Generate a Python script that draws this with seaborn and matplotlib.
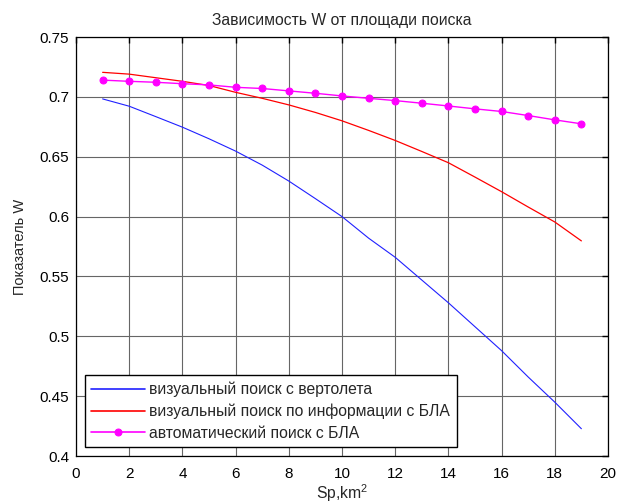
import matplotlib
matplotlib.use("Agg")
import matplotlib.pyplot as plt
import seaborn as sns
import pandas as pd
from matplotlib.ticker import FuncFormatter, MultipleLocator

x = list(range(1, 20))
heli = [0.6983, 0.6922, 0.6835, 0.6747, 0.665, 0.6547, 0.643, 0.6297, 0.615, 0.600,
        0.582, 0.566, 0.547, 0.528, 0.508, 0.488, 0.466, 0.445, 0.4228]
bla_info = [0.7205, 0.719, 0.716, 0.713, 0.7095, 0.7038, 0.6988, 0.6933, 0.687, 0.680,
            0.672, 0.6636, 0.6544, 0.645, 0.633, 0.6208, 0.608, 0.5955, 0.5797]
bla_auto = [0.714, 0.713, 0.7122, 0.711, 0.710, 0.708, 0.707, 0.705, 0.703, 0.7008,
            0.6988, 0.6969, 0.6947, 0.6924, 0.690, 0.6878, 0.6844, 0.6808, 0.6775]
labels = ["визуальный поиск с вертолета",
          "визуальный поиск по информации с БЛА",
          "автоматический поиск с БЛА"]
title = "Зависимость W от площади поиска"
xlabel = "Sp,km$^2$"
ylabel = "Показатель W"

sns.set_style("white")
plt.rcParams["font.family"] = ["Liberation Sans", "DejaVu Sans"]
plt.rcParams["mathtext.fontset"] = "custom"
plt.rcParams["mathtext.rm"] = "Liberation Sans"

fig = plt.figure(figsize=(6.19, 5.03), dpi=100)
ax = fig.add_axes([0.1228, 0.0934, 0.8594, 0.833])

df1 = pd.DataFrame({"x": x, "y": heli})
df2 = pd.DataFrame({"x": x, "y": bla_info})
df3 = pd.DataFrame({"x": x, "y": bla_auto})
sns.lineplot(data=df1, x="x", y="y", ax=ax, color="#2020ff", lw=0.8, legend=False)
sns.lineplot(data=df2, x="x", y="y", ax=ax, color="#ff0000", lw=0.9, legend=False)
sns.lineplot(data=df3, x="x", y="y", ax=ax, color="#ff00ff", lw=1.0, marker="o",
             markersize=5, markeredgecolor="#ff00ff", legend=False)
handles = list(ax.lines[:3])

ax.set_xlim(0, 20)
ax.set_ylim(0.4, 0.75)
ax.xaxis.set_major_locator(MultipleLocator(2))
ax.yaxis.set_major_locator(MultipleLocator(0.05))
ax.yaxis.set_major_formatter(FuncFormatter(lambda v, p: "%g" % round(v, 2)))
ax.grid(True, color="#666666", lw=0.8)
ax.set_axisbelow(True)
ax.tick_params(direction="in", top=True, right=True, length=4, width=1,
               labelsize=11, colors="black")
ax.tick_params(axis="x", pad=8)
ax.tick_params(axis="y", pad=5)
for s in ax.spines.values():
    s.set_color("black")
    s.set_linewidth(0.9)

ax.set_title(title, fontsize=11.3, pad=9)
ax.set_xlabel(xlabel, fontsize=11.3, labelpad=1)
ax.set_ylabel(ylabel, fontsize=10.5, labelpad=9)

leg = ax.legend(handles, labels, loc="lower left", bbox_to_anchor=(0.017, 0.021),
                borderaxespad=0, fontsize=11.3, frameon=True, fancybox=False,
                handlelength=3.4, handletextpad=0.3, labelspacing=0.42, borderpad=0.4)
leg.get_frame().set_edgecolor("black")
leg.get_frame().set_linewidth(1.0)
leg.get_frame().set_alpha(1)
for h in leg.legend_handles:
    h.set_linewidth(1.2)

fig.savefig("out.png", dpi=100)
